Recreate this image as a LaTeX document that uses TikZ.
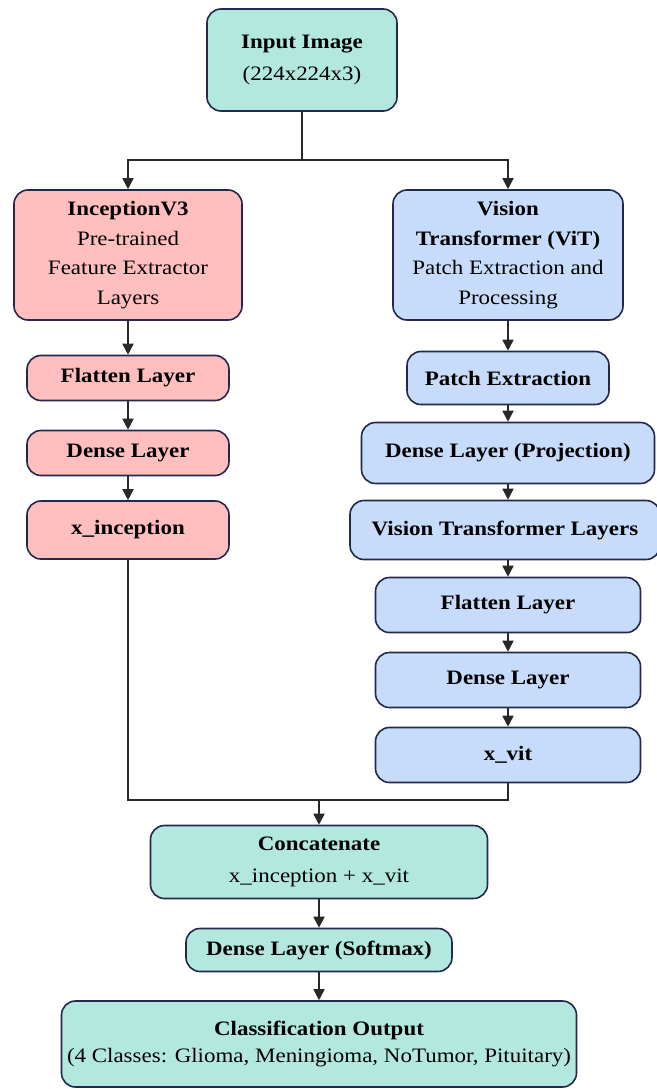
\documentclass[tikz,border=0pt]{standalone}
\usepackage{fontspec}
\setmainfont{Liberation Serif}[FakeStretch=1.12]
\usetikzlibrary{arrows.meta}
\definecolor{teal}{RGB}{178,232,222}
\definecolor{pinkf}{RGB}{255,191,191}
\definecolor{bluef}{RGB}{198,220,250}
\definecolor{edge}{RGB}{35,40,77}
\definecolor{wire}{RGB}{40,40,40}
\begin{document}
\begin{tikzpicture}[x=1pt,y=-1pt,
  box/.style={draw=edge, line width=1.6pt, rounded corners=14pt, align=center,
    font=\fontsize{20.5}{29.5}\selectfont, inner sep=0pt, text=black},
  tealbox/.style={box, fill=teal},
  pinkbox/.style={box, fill=pinkf},
  bluebox/.style={box, fill=bluef},
  wireline/.style={draw=wire, line width=1.8pt},
  arr/.style={wireline, -{Triangle[length=11pt,width=11pt]}}]
\useasboundingbox (0,0) rectangle (656,1089);
% top
\node[tealbox, minimum width=190pt, minimum height=102pt] (in) at (302,60) {\textbf{Input Image}\\[2pt](224x224x3)};
% left column
\node[pinkbox, minimum width=228pt, minimum height=130pt] (inc) at (128,255) {\textbf{InceptionV3}\\Pre-trained\\Feature Extractor\\Layers};
\node[pinkbox, minimum width=202pt, minimum height=45pt] (fl) at (128,378) {\textbf{Flatten Layer}};
\node[pinkbox, minimum width=202pt, minimum height=45pt] (dl) at (128,453) {\textbf{Dense Layer}};
\node[pinkbox, minimum width=202pt, minimum height=58pt] (xinc) at (128,530) {\textbf{x\_inception}};
% right column
\node[bluebox, minimum width=230pt, minimum height=130pt] (vit) at (508,255) {\textbf{Vision}\\\textbf{Transformer (ViT)}\\Patch Extraction and\\Processing};
\node[bluebox, minimum width=202pt, minimum height=53pt] (pe) at (508,378) {\textbf{Patch Extraction}};
\node[bluebox, minimum width=293pt, minimum height=61pt] (dp) at (508,453) {\textbf{Dense Layer (Projection)}};
\node[bluebox, minimum width=310pt, minimum height=59pt] (vtl) at (505,530) {\textbf{Vision Transformer Layers}};
\node[bluebox, minimum width=265pt, minimum height=55pt] (fr) at (508,605) {\textbf{Flatten Layer}};
\node[bluebox, minimum width=265pt, minimum height=55pt] (dr) at (508,680) {\textbf{Dense Layer}};
\node[bluebox, minimum width=265pt, minimum height=55pt] (xvit) at (508,755) {\textbf{x\_vit}};
% bottom
\node[tealbox, minimum width=337pt, minimum height=73pt] (cat) at (319,862) {\textbf{Concatenate}\\[2pt]x\_inception + x\_vit};
\node[tealbox, minimum width=266pt, minimum height=43pt] (sm) at (319,950) {\textbf{Dense Layer (Softmax)}};
\node[tealbox, minimum width=515pt, minimum height=86pt] (out) at (319,1044) {\textbf{Classification Output}\\[-2pt](4 Classes: Glioma, Meningioma, NoTumor, Pituitary)};
% connectors
\coordinate (split) at (302,160);
\coordinate (merge) at (319,800);
\draw[wireline] (in.south) -- (split);
\draw[arr] (split) -| (inc.north);
\draw[arr] (split) -| (vit.north);
\draw[arr] (inc.south) -- (fl.north);
\draw[arr] (fl.south) -- (dl.north);
\draw[arr] (dl.south) -- (xinc.north);
\draw[arr] (vit.south) -- (pe.north);
\draw[arr] (pe.south) -- (dp.north);
\draw[arr] (dp.south) -- (dp.south |- vtl.north);
\draw[arr] (dp.south |- vtl.south) -- (fr.north);
\draw[arr] (fr.south) -- (dr.north);
\draw[arr] (dr.south) -- (xvit.north);
\draw[wireline] (xinc.south) |- (merge);
\draw[wireline] (xvit.south) |- (merge);
\draw[arr] (merge) -- (cat.north);
\draw[arr] (cat.south) -- (sm.north);
\draw[arr] (sm.south) -- (out.north);
\end{tikzpicture}
\end{document}
